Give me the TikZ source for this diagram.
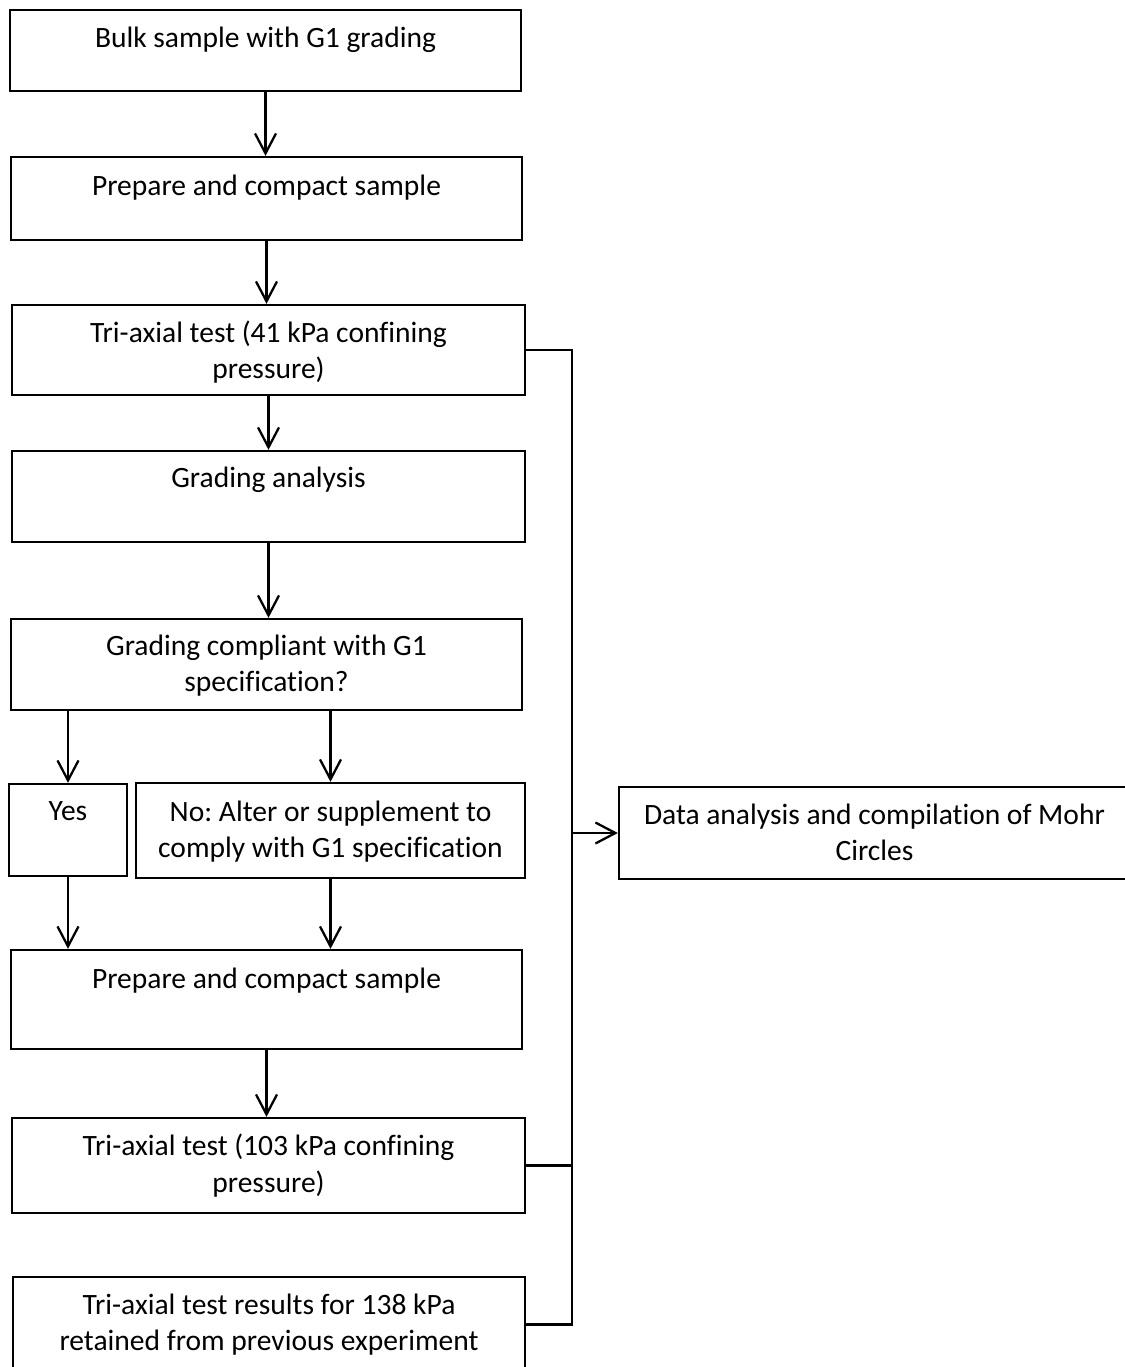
\documentclass[tikz,border=0pt]{standalone}
\usepackage{fontspec}
\setmainfont[Ligatures=CommonOff]{Carlito}
\usetikzlibrary{calc,positioning,arrows.meta}
\frenchspacing

\begin{document}
\begin{tikzpicture}[>={Straight Barb[length=0.4cm,width=0.42cm]}]
\tikzstyle{box}=[draw, rectangle, line width=1.3pt, inner sep=0pt]
\tikzstyle{lbl}=[text centered, align=center, anchor=north, inner sep=0pt, font=\fontsize{16.8}{20.6}\selectfont]
\tikzstyle{cr}=[line width=1.3pt]

\useasboundingbox (0,0) rectangle (22.48,-27.34);

% left column
\node(bulk)[box, minimum width=10.22cm, minimum height=1.62cm] at (5.31,-1.01) {};
\node(bulkt)[lbl] at ($(bulk.north)+(0,-0.36)$) {Bulk sample with G1 grading};

\node(prep1)[box, minimum width=10.22cm, minimum height=1.66cm] at (5.33,-3.97) {};
\node(prep1t)[lbl] at ($(prep1.north)+(0,-0.38)$) {Prepare and compact sample};

\node(tri1)[box, minimum width=10.26cm, minimum height=1.80cm] at (5.37,-7.00) {};
\node(tri1t)[lbl] at ($(tri1.north)+(0,-0.34)$) {Tri-axial test (41 kPa confining\\pressure)};

\node(grad)[box, minimum width=10.26cm, minimum height=1.82cm] at (5.37,-9.93) {};
\node(gradt)[lbl] at ($(grad.north)+(0,-0.34)$) {Grading analysis};

\node(comp)[box, minimum width=10.22cm, minimum height=1.82cm] at (5.33,-13.29) {};
\node(compt)[lbl] at ($(comp.north)+(0,-0.34)$) {Grading compliant with G1\\specification?};

\node(yes)[box, minimum width=2.36cm, minimum height=1.84cm] at (1.36,-16.60) {};
\node(yest)[lbl] at ($(yes.north)+(0,-0.36)$) {Yes};

\node(no)[box, minimum width=7.78cm, minimum height=1.90cm] at (6.61,-16.61) {};
\node(not)[lbl] at ($(no.north)+(0,-0.38)$) {No: Alter or supplement to\\comply with G1 specification};

\node(prep2)[box, minimum width=10.22cm, minimum height=1.98cm] at (5.33,-19.99) {};
\node(prep2t)[lbl] at ($(prep2.north)+(0,-0.38)$) {Prepare and compact sample};

\node(tri2)[box, minimum width=10.26cm, minimum height=1.90cm] at (5.37,-23.31) {};
\node(tri2t)[lbl] at ($(tri2.north)+(0,-0.34)$) {Tri-axial test (103 kPa confining\\pressure)};

\node(res)[box, minimum width=10.24cm, minimum height=1.90cm] at (5.38,-26.49) {};
\node(rest)[lbl] at ($(res.north)+(0,-0.36)$) {Tri-axial test results for 138 kPa\\retained from previous experiment};

% right
\node(data)[box, minimum width=10.22cm, minimum height=1.84cm] at (17.49,-16.66) {};
\node(datat)[lbl] at ($(data.north)+(0,-0.36)$) {Data analysis and compilation of Mohr\\Circles};

% arrows down
\draw[cr,->] (bulk.south) -- (bulk.south |- prep1.north);
\draw[cr,->] (prep1.south) -- (prep1.south |- tri1.north);
\draw[cr,->] (tri1.south) -- (tri1.south |- grad.north);
\draw[cr,->] (grad.south) -- (grad.south |- comp.north);
\draw[cr,->] (yes.north |- comp.south) -- (yes.north);
\draw[cr,->] (no.north |- comp.south) -- (no.north);
\draw[cr,->] (yes.south) -- (yes.south |- prep2.north);
\draw[cr,->] (no.south) -- (no.south |- prep2.north);
\draw[cr,->] (prep2.south) -- (prep2.south |- tri2.north);

% collector line
\coordinate(bus) at (11.44,0);
\draw[cr] (tri1.east) -- (tri1.east -| bus) -- (res.east -| bus) -- (res.east);
\draw[cr] (tri2.east) -- (tri2.east -| bus);
\draw[cr,->] (data.west -| bus) -- (data.west);

\end{tikzpicture}
\end{document}
